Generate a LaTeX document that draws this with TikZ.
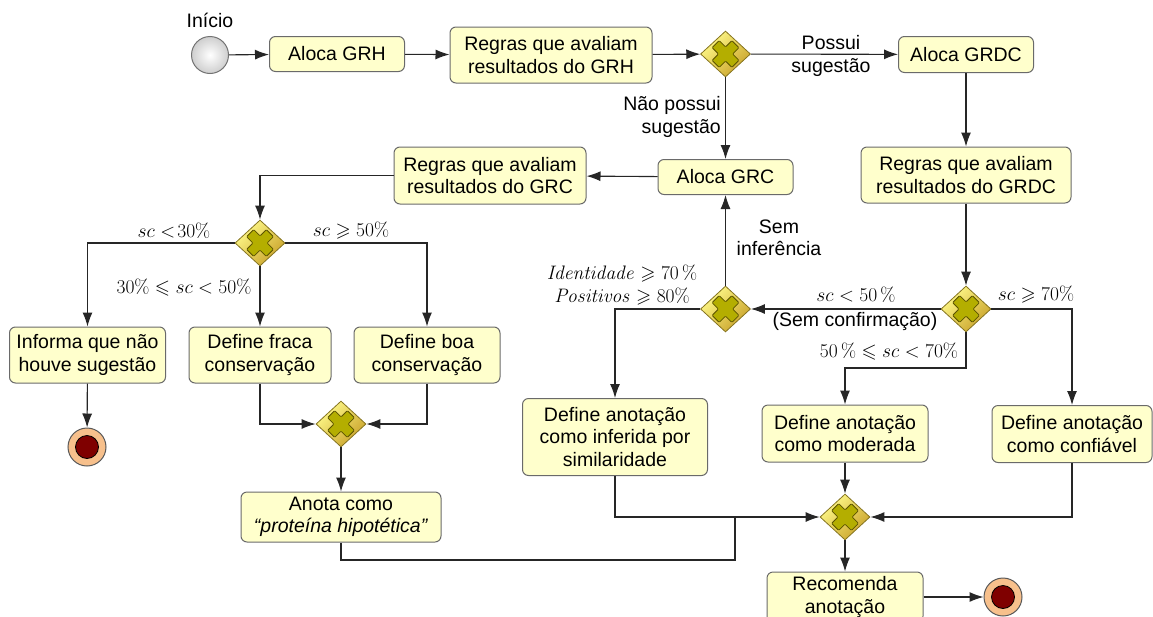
\RequirePackage{fix-cm}
\documentclass[tikz,border=0pt]{standalone}
\usepackage{amssymb}
\usepackage[no-math]{fontspec}
\setmainfont{Liberation Sans}
\usetikzlibrary{arrows.meta,shapes.geometric}

\definecolor{boxfill}{HTML}{FFFFCC}
\definecolor{boxline}{HTML}{6A6A6A}
\definecolor{gatelight}{HTML}{FFFA8A}
\definecolor{gatedark}{HTML}{C9A22A}
\definecolor{gateline}{HTML}{857420}
\definecolor{xfill}{HTML}{B4AE00}
\definecolor{xline}{HTML}{5A5200}
\definecolor{endfill}{HTML}{F7C08C}
\definecolor{endcore}{HTML}{7F0000}
\definecolor{startfill}{HTML}{E2E2E2}

% exclusive gateway: shaded diamond with an X mark
\newcommand\gateway[2]{%
  \node[gate] (#1) at (#2) {};
  \draw[xmark, shift={(#1.center)}, rotate=45]
    (-5,-14) -- (5,-14) -- (5,-5) -- (14,-5) -- (14,5) -- (5,5) -- (5,14)
    -- (-5,14) -- (-5,5) -- (-14,5) -- (-14,-5) -- (-5,-5) -- cycle;}

% end event: ring with dark core
\newcommand\stopevent[2]{%
  \node[endring] (#1) at (#2) {};
  \node[endcorestyle] (#1core) at (#1.center) {};}

\begin{document}
\begin{tikzpicture}[x=1pt,y=-1pt,
  font=\fontsize{19.5}{22.5}\selectfont,
  act/.style={draw=boxline, fill=boxfill, rounded corners=6pt, line width=1pt,
              align=center, inner sep=0pt},
  gate/.style={diamond, draw=gateline, line width=0.8pt, minimum width=50pt,
               minimum height=46pt, inner sep=0pt, top color=gatelight,
               bottom color=gatedark, shading angle=45},
  xmark/.style={fill=xfill, draw=xline, line width=0.8pt, rounded corners=1pt},
  startev/.style={circle, draw=black!55, line width=1pt, minimum size=37pt,
                  inner sep=0pt, inner color=white, outer color=startfill!80!gray},
  endring/.style={circle, draw=black!65, fill=endfill, line width=1pt,
                  minimum size=38pt, inner sep=0pt},
  endcorestyle/.style={circle, draw=black, fill=endcore, line width=0.8pt,
                       minimum size=23pt, inner sep=0pt},
  flow/.style={draw=black!85, line width=1.1pt, -{Latex[length=14pt,width=10pt]}},
  plain/.style={draw=black!85, line width=1.1pt},
  lbl/.style={align=center, inner sep=0pt}]

\useasboundingbox (0,0) rectangle (1153,616);

% --- start and first rules ---
\node[lbl] (tinicio) at (210,20) {Início};
\node[startev] (start) at (210,55) {};
\node[act, minimum width=135pt, minimum height=35pt] (grh) at (337,54) {Aloca GRH};
\node[act, minimum width=202pt, minimum height=56pt] (rgrh) at (551,55)
  {Regras que avaliam\\resultados do GRH};
\gateway{g1}{725.5,54}
\node[act, minimum width=135pt, minimum height=36pt] (grdc) at (966,54.5) {Aloca GRDC};
\node[act, minimum width=210pt, minimum height=56pt] (rgrdc) at (966,175)
  {Regras que avaliam\\resultados do GRDC};
\node[act, minimum width=135pt, minimum height=35pt] (grc) at (725.5,177) {Aloca GRC};
\node[act, minimum width=192pt, minimum height=57pt] (rgrc) at (490,175.5)
  {Regras que avaliam\\resultados do GRC};

% --- GRC branch ---
\gateway{g2}{260,243}
\node[act, minimum width=156pt, minimum height=56pt] (infn) at (87.5,355)
  {Informa que não\\houve sugestão};
\node[act, minimum width=142pt, minimum height=56pt] (fraca) at (260,355)
  {Define fraca\\conservação};
\node[act, minimum width=146pt, minimum height=56pt] (boa) at (427,355)
  {Define boa\\conservação};
\stopevent{end1}{87,447}
\gateway{g5}{341,424}
\node[act, minimum width=200pt, minimum height=50pt] (anota) at (341,517)
  {Anota como\\\textit{“proteína hipotética”}};

% --- GRDC branch ---
\gateway{g3}{966,309}
\gateway{g4}{725.5,309}
\node[act, minimum width=185pt, minimum height=77pt] (infer) at (615,437)
  {Define anotação\\como inferida por\\similaridade};
\node[act, minimum width=166pt, minimum height=57pt] (mod) at (845,433.5)
  {Define anotação\\como moderada};
\node[act, minimum width=160pt, minimum height=57pt] (conf) at (1072,434)
  {Define anotação\\como confiável};
\gateway{g6}{845,517}
\node[act, minimum width=156pt, minimum height=50pt] (rec) at (845,597)
  {Recomenda\\anotação};
\stopevent{end2}{1003,597}

% --- junction points ---
\coordinate (j1) at (735,560);
\coordinate (j2) at (966,368);

% --- connectors ---
\draw[flow] (start) -- (grh);
\draw[flow] (grh) -- (rgrh);
\draw[flow] (rgrh) -- (g1);
\draw[flow] (g1) -- (grdc);
\draw[flow] (g1) -- (grc);
\draw[flow] (grdc) -- (rgrdc);
\draw[flow] (grc) -- (rgrc);
\draw[flow] (rgrc.west) -| (g2.north);
\draw[flow] (g2.west) -| (infn.north);
\draw[flow] (g2.south) -- (fraca.north);
\draw[flow] (g2.east) -| (boa.north);
\draw[flow] (infn) -- (end1);
\draw[flow] (fraca.south) |- (g5.west);
\draw[flow] (boa.south) |- (g5.east);
\draw[flow] (g5) -- (anota);
\draw[plain] (anota.south) |- (j1) -- (j1 |- g6.west);
\draw[flow] (infer.south) |- (g6.west);
\draw[flow] (mod) -- (g6);
\draw[flow] (conf.south) |- (g6.east);
\draw[flow] (g6) -- (rec);
\draw[flow] (rec) -- (end2);
\draw[flow] (rgrdc) -- (g3);
\draw[flow] (g3.west) -- (g4.east);
\draw[flow] (g3.south) -- (j2) -| (mod.north);
\draw[flow] (g3.east) -| (conf.north);
\draw[flow] (g4.north) -- (grc.south);
\draw[flow] (g4.west) -| (infer.north);

% --- branch labels ---
\node[lbl] (lposs) at (831,56) {Possui\\sugestão};
\node[lbl, anchor=east, align=right] (lnao) at (721,117) {Não possui\\sugestão};
\node[lbl] (lsem) at (779,238) {Sem\\inferência};
\node[lbl] (lid) at (622,285)
  {$\mathit{Identidade}\geqslant 70\,\%$\\$\mathit{Positivos}\geqslant 80\%$};
\node[lbl] (l50) at (856,295) {$sc < 50\,\%$};
\node[lbl] (lsc) at (855,321) {(Sem confirmação)};
\node[lbl] (l5070) at (889,352) {$50\,\%\leqslant sc < 70\%$};
\node[lbl] (l70) at (1036,295) {$sc\geqslant 70\%$};
\node[lbl] (l30) at (174,231) {$sc <\!30\%$};
\node[lbl] (l3050) at (184,288) {$30\%\leqslant sc < 50\%$};
\node[lbl] (l50b) at (351,231) {$sc\geqslant 50\%$};

\end{tikzpicture}
\end{document}
